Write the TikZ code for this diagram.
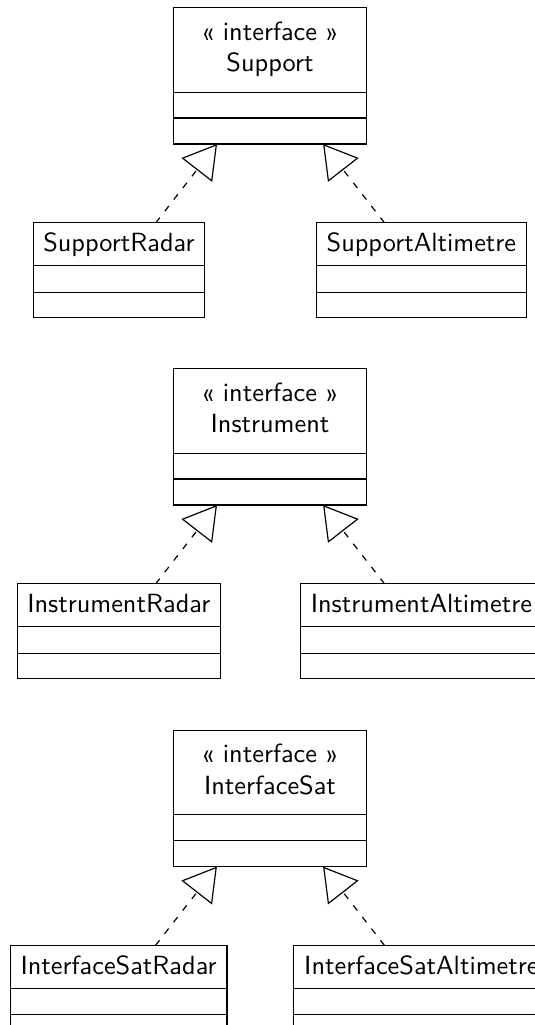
\documentclass[tikz,border=0pt]{standalone}
\usepackage{fontspec}
\usetikzlibrary{arrows.meta}
\newcommand\ifacecls[3]{% name, yoff, title
  \node[cls, minimum width=193.5*0.38pt, minimum height=136.5*0.38pt] (#1) at (270,#2+75.75) {};
  \node[lbl] (#1-st) at (270,#2+40) {« interface »};
  \node[lbl] (#1-nm) at (270,#2+71.7) {#3};
  \draw (173.25,#2+92.1) -- ++(193.5,0);
  \draw (173.25,#2+118.0) -- ++(193.5,0);
}
\newcommand\childcls[5]{% name, cx, yoff, width, label
  \node[cls, minimum width=#4*0.38pt, minimum height=94.8*0.38pt] (#1) at (#2,#3+270.2) {};
  \node[lbl] (#1-nm) at (#2,#3+251.5) {#5};
  \draw ({#2-#4/2},#3+265.8) -- ++(#4,0);
  \draw ({#2-#4/2},#3+292.1) -- ++(#4,0);
}
\begin{document}
\begin{tikzpicture}[x=0.38pt,y=-0.38pt,font=\sffamily,line width=0.45pt,
  cls/.style={draw,rectangle,inner sep=0pt,outer sep=0pt},
  lbl/.style={anchor=base,inner sep=0pt},
  realize/.style={dash pattern=on 2.5pt off 3.1pt,
    -{Triangle[open,length=12.5pt,width=14.7pt]}}]
\fill[white] (0,0) rectangle (535,1025);
\useasboundingbox (0,0) rectangle (535,1025);
\clip (0,0) rectangle (535,1025);
% section 1
\ifacecls{sup}{0}{Support}
\childcls{supR}{118.9}{0}{171.6}{SupportRadar}
\childcls{supA}{421.4}{0}{210.1}{SupportAltimetre}
\draw[realize] (supR) -- (sup);
\draw[realize] (supA) -- (sup);
% section 2
\ifacecls{ins}{361}{Instrument}
\childcls{insR}{118.8}{361}{203.3}{InstrumentRadar}
\childcls{insA}{421.4}{361}{242.4}{InstrumentAltimetre}
\draw[realize] (insR) -- (ins);
\draw[realize] (insA) -- (ins);
% section 3
\ifacecls{isat}{722.6}{InterfaceSat}
\childcls{isatR}{118.6}{722.6}{216.7}{InterfaceSatRadar}
\childcls{isatA}{421.4}{722.6}{256.0}{InterfaceSatAltimetre}
\draw[realize] (isatR) -- (isat);
\draw[realize] (isatA) -- (isat);
\end{tikzpicture}
\end{document}
